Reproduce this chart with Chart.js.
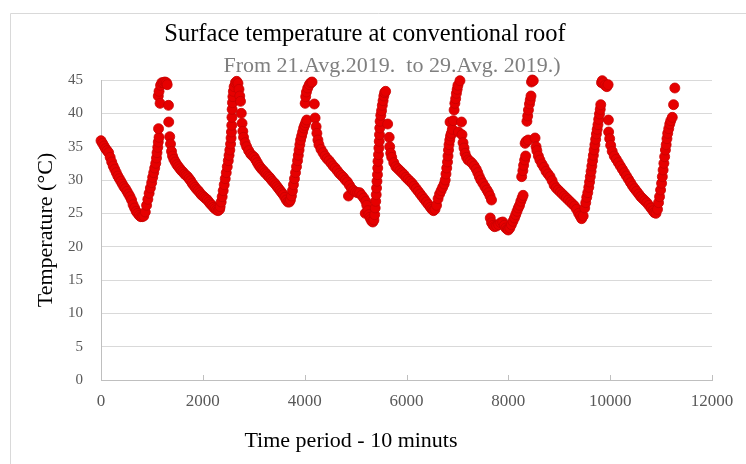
<!DOCTYPE html>
<html>
<head>
<meta charset="utf-8">
<script src="https://cdn.jsdelivr.net/npm/chart.js@4/dist/chart.umd.min.js"></script>
<style>
  body { margin: 0; background: #fff; }
  canvas { display: block; }
</style>
</head>
<body>
<canvas id="roofChart" width="746" height="464"></canvas>
<script>
// Time (x, in minutes) and surface temperature (y, °C)
const timeMinutes = [
  // day 1 cooling
  0, 30, 60, 90, 120, 150, 180, 210, 240, 270, 300, 330, 360, 390, 420, 450, 480, 510, 540, 570, 600, 630, 660, 690, 720, 750, 780, 810, 840,
  // day 1 heating + peak
  870, 895, 920, 945, 970, 995, 1015, 1035, 1055, 1075, 1090, 1100, 1115, 1125, 1140, 1130, 1125, 1140, 1160, 1170, 1195, 1225, 1255, 1285, 1300, 1325, 1330, 1350, 1365, 1385, 1405,
  // night 1
  1430, 1460, 1490, 1520, 1550, 1580, 1610, 1640, 1670, 1700, 1730, 1760, 1790, 1820, 1850, 1880, 1910, 1940, 1970, 2000, 2030, 2060, 2090, 2120, 2150, 2180, 2210, 2240, 2270, 2300, 2330,
  // day 2
  2340, 2360, 2380, 2400, 2420, 2440, 2460, 2480, 2500, 2515, 2530, 2545, 2555, 2562, 2568, 2572, 2576, 2582, 2590, 2600, 2615, 2640, 2665, 2690, 2710, 2725, 2740, 2755, 2770, 2785, 2800, 2830, 2860, 2900, 2940, 2980,
  // night 2
  3010, 3040, 3070, 3100, 3130, 3160, 3190, 3220, 3250, 3280, 3310, 3340, 3370, 3400, 3430, 3460, 3490, 3520, 3550, 3580, 3610, 3640, 3670, 3700, 3720,
  // day 3
  3740, 3760, 3780, 3800, 3820, 3840, 3860, 3875, 3890, 3905, 3920, 3940, 3960, 3980, 4000, 4020, 4040, 4010, 4020, 4035, 4060, 4090, 4120, 4145, 4190, 4205, 4225, 4240, 4260, 4280, 4320, 4360, 4400, 4440, 4480, 4520,
  // night 3
  4560, 4600, 4640, 4680, 4720, 4760, 4800, 4840, 4860, 4880, 4920, 4960, 5000, 5040, 5080, 5120, 5160, 5200, 5220, 5190, 5240, 5260, 5280, 5300, 5320, 5340, 5360,
  // day 4 + night 4
  5375, 5385, 5395, 5405, 5412, 5420, 5430, 5435, 5440, 5450, 5458, 5465, 5470, 5475, 5482, 5495, 5510, 5525, 5540, 5555, 5570, 5590, 5630, 5660, 5670, 5690, 5710, 5750, 5790, 5830, 5870, 5910, 5950, 5990, 6030, 6070, 6110, 6150, 6190, 6230, 6270, 6310, 6350, 6390, 6430, 6470, 6500, 6530, 6560,
  // day 5 + evening
  6590, 6620, 6650, 6680, 6710, 6740, 6760, 6775, 6790, 6805, 6815, 6825, 6835, 6850, 6865, 6880, 6855, 6900, 6920, 6935, 6950, 6965, 6980, 6995, 7010, 7050, 7020, 7080, 7090, 7110, 7130, 7150, 7180, 7210, 7250, 7290, 7330, 7370, 7400, 7430, 7460, 7500, 7540, 7580, 7610, 7640, 7670,
  // night 5 (cold)
  7645, 7670, 7700, 7730, 7770, 7810, 7850, 7890, 7920, 7950, 7980, 8000, 8030, 8060, 8090, 8120, 8145, 8170, 8195, 8220, 8245, 8270, 8290,
  // day 6 + night 6
  8262, 8285, 8300, 8320, 8340, 8330, 8350, 8390, 8365, 8380, 8395, 8415, 8430, 8445, 8455, 8470, 8490, 8525, 8545, 8560, 8590, 8620, 8660, 8700, 8740, 8780, 8820, 8860, 8900, 8940, 8980, 9020, 9060, 9100, 9140, 9180, 9220, 9260, 9300, 9340, 9380, 9410, 9440, 9470,
  // day 7 + night 7
  9500, 9520, 9540, 9560, 9580, 9595, 9610, 9625, 9640, 9655, 9670, 9685, 9700, 9715, 9730, 9745, 9760, 9775, 9790, 9805, 9815, 9830, 9845, 9870, 9900, 9935, 9960, 9965, 9970, 9990, 10010, 10040, 10080, 10120, 10160, 10200, 10240, 10280, 10320, 10360, 10400, 10440, 10480, 10520, 10560, 10600, 10640, 10680, 10720, 10760, 10800, 10840, 10870, 10900, 10930,
  // day 8
  10950, 10970, 10990, 11010, 11025, 11040, 11055, 11070, 11085, 11100, 11115, 11130, 11150, 11170, 11190, 11220, 11245, 11270,
];

const surfaceTempC = [
  35.9, 35.5, 35.1, 34.7, 34.4, 34.1, 33.4, 32.7, 32.1, 31.6, 31.1, 30.6, 30.2, 29.8, 29.4, 29.0, 28.7, 28.3, 27.9, 27.5, 27.0, 26.3, 25.8, 25.3, 25.0, 24.7, 24.5, 24.5, 24.6,
  25.2, 26.2, 27.1, 28.0, 28.8, 29.6, 30.4, 31.1, 31.8, 32.5, 33.3, 34.1, 34.9, 35.7, 36.4, 37.7, 42.6, 43.3, 41.5, 44.2, 44.6, 44.6, 44.7, 44.6, 44.3, 41.2, 38.7, 36.5, 35.4, 34.3, 33.6,
  33.1, 32.7, 32.3, 32.0, 31.7, 31.4, 31.2, 30.9, 30.7, 30.5, 30.2, 29.9, 29.5, 29.2, 28.9, 28.6, 28.4, 28.1, 27.8, 27.6, 27.4, 27.2, 27.0, 26.7, 26.4, 26.2, 25.9, 25.7, 25.5, 25.4, 25.6,
  26.0, 26.7, 27.5, 28.4, 29.3, 30.2, 31.1, 32.0, 32.9, 33.7, 34.5, 35.4, 36.3, 37.2, 38.2, 39.4, 40.6, 41.6, 42.5, 43.3, 44.0, 44.6, 44.8, 44.5, 43.6, 42.6, 41.8, 40.0, 38.5, 37.3, 36.4, 35.6, 35.0, 34.4, 33.9, 33.6,
  33.4, 33.0, 32.6, 32.2, 31.9, 31.6, 31.4, 31.1, 30.9, 30.6, 30.4, 30.1, 29.8, 29.6, 29.3, 29.0, 28.7, 28.4, 28.1, 27.8, 27.4, 27.0, 26.7, 26.7, 27.0,
  27.6, 28.4, 29.3, 30.2, 31.1, 32.0, 32.9, 33.7, 34.5, 35.3, 36.0, 36.6, 37.2, 37.8, 38.2, 38.6, 39.0, 41.5, 42.5, 43.2, 43.8, 44.3, 44.6, 44.7, 41.4, 39.3, 38.0, 37.0, 36.0, 35.3, 34.6, 34.1, 33.6, 33.2, 32.9, 32.5,
  32.1, 31.8, 31.4, 31.0, 30.7, 30.4, 30.0, 29.7, 27.6, 29.2, 28.7, 28.4, 28.2, 28.1, 28.1, 27.7, 27.3, 26.8, 26.2, 25.0, 25.4, 24.8, 24.4, 24.1, 23.8, 23.7, 24.0,
  24.8, 25.8, 26.8, 27.8, 28.8, 29.8, 30.8, 31.8, 32.8, 33.8, 34.8, 35.8, 36.8, 37.8, 38.8, 39.7, 40.4, 41.2, 41.9, 42.6, 43.1, 43.3, 38.4, 36.4, 35.0, 34.0, 33.4, 32.6, 32.0, 31.7, 31.4, 31.1, 30.8, 30.4, 30.1, 29.8, 29.5, 29.1, 28.7, 28.3, 27.9, 27.5, 27.1, 26.7, 26.3, 25.9, 25.6, 25.4, 25.6,
  26.2, 27.2, 27.9, 28.4, 28.9, 29.4, 30.0, 30.9, 31.8, 32.7, 33.6, 34.5, 35.3, 36.0, 36.6, 37.0, 38.7, 37.6, 38.9, 40.5, 41.5, 42.2, 43.0, 43.6, 44.2, 44.9, 37.2, 38.7, 36.8, 35.6, 34.8, 34.0, 33.4, 33.0, 32.8, 32.5, 32.1, 31.6, 31.1, 30.5, 30.0, 29.5, 29.0, 28.5, 28.1, 27.6, 27.0,
  24.3, 23.6, 23.2, 23.0, 23.1, 23.3, 23.6, 23.7, 23.2, 22.8, 22.6, 22.5, 22.8, 23.3, 23.8, 24.3, 24.8, 25.3, 25.8, 26.2, 26.8, 27.3, 27.7,
  30.5, 31.4, 32.2, 33.0, 33.6, 35.5, 35.8, 36.0, 38.8, 39.6, 40.5, 41.4, 42.0, 42.6, 44.7, 45.0, 44.9, 36.3, 35.0, 34.4, 33.6, 33.0, 32.4, 31.9, 31.3, 30.9, 30.5, 29.9, 29.2, 28.8, 28.5, 28.2, 27.9, 27.6, 27.3, 27.0, 26.7, 26.4, 26.1, 25.6, 25.0, 24.6, 24.2, 24.6,
  25.8, 26.6, 27.4, 28.1, 28.9, 29.7, 30.5, 31.3, 32.1, 32.9, 33.7, 34.5, 35.3, 36.1, 36.9, 37.6, 38.3, 39.1, 39.9, 40.6, 41.3, 44.6, 44.9, 44.6, 44.2, 44.0, 44.3, 39.0, 37.2, 36.2, 35.2, 34.3, 33.6, 33.1, 32.6, 32.1, 31.6, 31.1, 30.6, 30.1, 29.6, 29.1, 28.7, 28.3, 27.9, 27.5, 27.2, 26.9, 26.6, 26.2, 25.8, 25.4, 25.1, 25.0, 25.6,
  26.6, 27.5, 28.5, 29.5, 30.5, 31.5, 32.5, 33.5, 34.5, 35.3, 36.2, 37.0, 37.7, 38.4, 38.9, 39.4, 41.3, 43.8,
];

const chartTitle = "Surface temperature at conventional roof";
const chartSubtitle = "From 21.Avg.2019.  to 29.Avg. 2019.)";
const xAxisTitle = "Time period - 10 minuts";
const yAxisTitle = "Temperature (°C)";

const excelColors = {
  red: "#e60000",
  redEdge: "#c80000",
  grid: "#d9d9d9",
  axis: "#bfbfbf",
  tickText: "#595959",
  subText: "#7f7f7f",
  frame: "#d9d9d9",
};

const serif = '"Liberation Serif", "Times New Roman", serif';
Chart.defaults.font.family = serif;

// outer chart frame, inward x tick marks, and the two free-floating texts
const frameAndTexts = {
  id: "frameAndTexts",
  beforeDraw(chart) {
    const ctx = chart.ctx;
    ctx.save();
    ctx.strokeStyle = excelColors.frame;
    ctx.lineWidth = 1;
    ctx.beginPath();
    ctx.moveTo(10.5, chart.height);
    ctx.lineTo(10.5, 13.5);
    ctx.lineTo(chart.width, 13.5);
    ctx.stroke();
    ctx.restore();
  },
  afterDatasetsDraw(chart) {
    const x = chart.scales.x;
    const ctx = chart.ctx;
    ctx.save();
    ctx.strokeStyle = excelColors.axis;
    ctx.lineWidth = 1;
    ctx.beginPath();
    x.ticks.forEach((t) => {
      const px = Math.round(x.getPixelForValue(t.value)) + 0.5;
      ctx.moveTo(px, x.top);
      ctx.lineTo(px, x.top - 5);
    });
    ctx.stroke();
    ctx.restore();
  },
  afterDraw(chart) {
    const ctx = chart.ctx;
    ctx.save();
    ctx.textAlign = "center";
    ctx.textBaseline = "alphabetic";
    ctx.font = "22px " + serif;
    ctx.fillStyle = excelColors.subText;
    ctx.fillText(chartSubtitle, 392, 72);
    ctx.fillStyle = "#000";
    ctx.fillText(xAxisTitle, 351, 447);
    ctx.restore();
  },
};

function renderRoofChart() {
  const points = timeMinutes.map((t, i) => ({ x: t, y: surfaceTempC[i] }));

  new Chart(document.getElementById("roofChart").getContext("2d"), {
    type: "scatter",
    data: {
      datasets: [
        {
          label: "Surface temperature",
          data: points,
          pointRadius: 5,
          pointHoverRadius: 5,
          backgroundColor: excelColors.red,
          borderColor: excelColors.redEdge,
          borderWidth: 0.8,
          clip: false,
        },
      ],
    },
    options: {
      responsive: false,
      animation: false,
      devicePixelRatio: 1,
      layout: { padding: { left: 0, right: 16, top: 0, bottom: 0 } },
      plugins: {
        legend: { display: false },
        tooltip: { enabled: false },
        title: {
          display: true,
          text: chartTitle,
          color: "#000",
          font: { size: 24.5, weight: "normal" },
          padding: { top: 20, bottom: 30.6 },
        },
      },
      scales: {
        x: {
          type: "linear",
          min: 0,
          max: 12000,
          ticks: {
            stepSize: 2000,
            color: excelColors.tickText,
            font: { size: 17 },
            padding: 11,
            maxRotation: 0,
            callback: (v) => String(v),
          },
          grid: { drawOnChartArea: false, drawTicks: false },
          border: { color: excelColors.axis },
          afterFit(scale) {
            scale.height = 84;
            scale.paddingRight = 34;
          },
        },
        y: {
          min: 0,
          max: 45,
          ticks: { stepSize: 5, color: excelColors.tickText, font: { size: 15 }, padding: 18 },
          grid: { color: excelColors.grid, drawTicks: false },
          border: { color: excelColors.axis },
          title: {
            display: true,
            text: yAxisTitle,
            color: "#000",
            font: { size: 22 },
            padding: { top: 33, bottom: 0 },
          },
          afterFit(scale) {
            scale.width = 101;
          },
        },
      },
    },
    plugins: [frameAndTexts],
  });
}

document.addEventListener("DOMContentLoaded", () => {
  renderRoofChart();
});
</script>
</body>
</html>
